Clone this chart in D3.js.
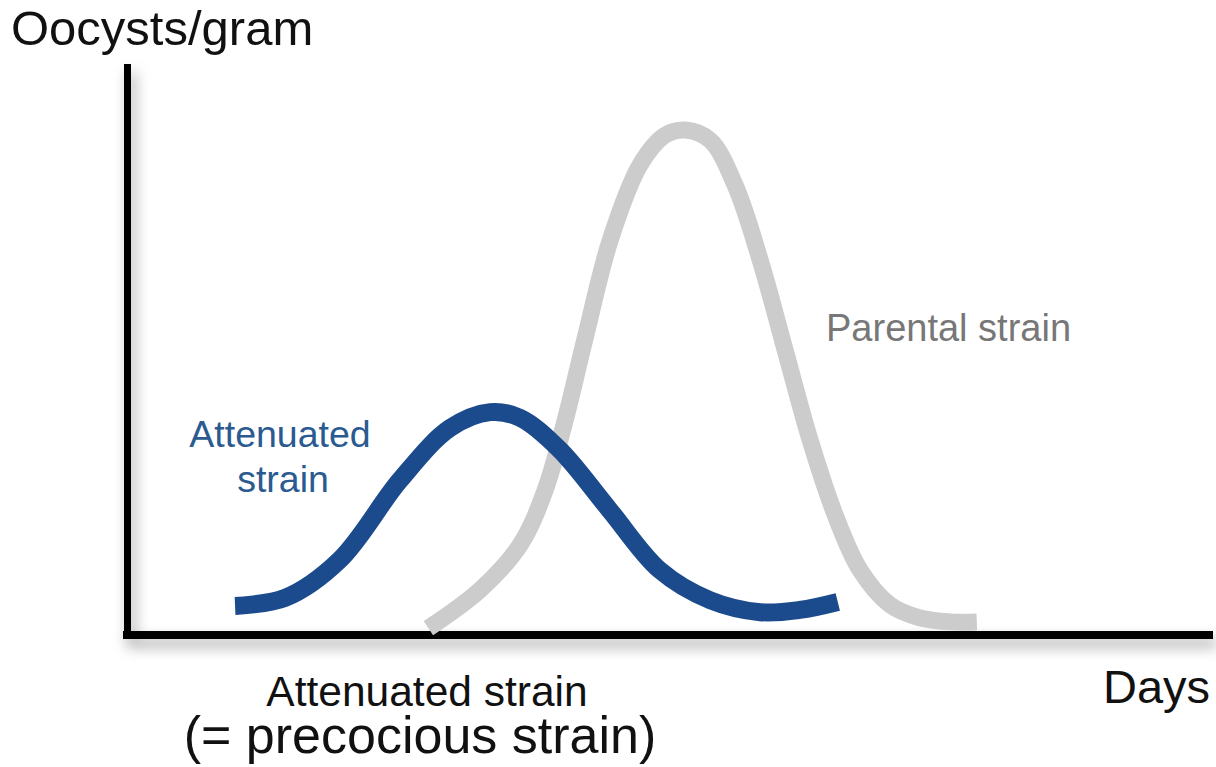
<!DOCTYPE html>
<html><head><meta charset="utf-8">
<script src="https://cdn.jsdelivr.net/npm/d3@7/dist/d3.min.js"></script>
<style>html,body{margin:0;padding:0;background:#fff;}svg{display:block;font-family:"Liberation Sans",Arial,sans-serif;}</style>
</head><body><svg id="c" width="1216" height="767"></svg>
<script>
// Attenuated (precocious) strain (days, oocysts/gram relative)
const attenuatedDays = [1.99, 2.91, 3.92, 5.03, 5.95, 6.69, 7.24, 7.97, 8.89, 9.81, 10.74, 11.66, 12.39, 13.09];
const attenuatedVals = [5.1, 6.5, 13.2, 27.2, 36.3, 39.1, 38.1, 32.5, 21.9, 11.4, 6.1, 4.0, 4.4, 5.8];
// Parental strain
const parentalDays = [5.55, 6.50, 7.24, 7.70, 8.07, 8.43, 8.90, 9.45, 9.91, 10.28, 10.74, 11.20, 11.66, 12.12, 12.58, 13.04, 13.50, 14.05, 14.60, 15.16, 15.65];
const parentalVals = [1.2, 7.9, 15.8, 25.4, 37.7, 51.8, 69.3, 82.5, 87.7, 88.6, 86.8, 78.9, 65.8, 50.0, 34.2, 21.1, 11.4, 5.3, 3.0, 2.3, 2.3];
const yLabel = "Oocysts/gram";
const xLabel = "Days";
const attenuatedLabel = ["Attenuated", "strain"];
const parentalLabel = "Parental strain";
const noteLines = ["Attenuated strain", "(= precocious strain)"];

const svg = d3.select("#c");
const x = d3.scaleLinear().domain([0, 20]).range([127, 1213]);
const y = d3.scaleLinear().domain([0, 100]).range([635, 65]);

const defs = svg.append("defs");
const f = defs.append("filter").attr("id","sh").attr("x","-20%").attr("y","-20%").attr("width","140%").attr("height","140%");
f.append("feDropShadow").attr("dx",4).attr("dy",8).attr("stdDeviation",7).attr("flood-color","#000").attr("flood-opacity",0.35);

const line = d3.line().x(d=>x(d[0])).y(d=>y(d[1])).curve(d3.curveCatmullRom.alpha(0.5));

// axes
const ax = svg.append("g").attr("filter","url(#sh)");
ax.append("line").attr("x1",x(0)+0.5).attr("x2",x(0)+0.5).attr("y1",y(100)-1).attr("y2",y(0)+3)
  .attr("stroke","#000").attr("stroke-width",7);
ax.append("line").attr("x1",x(0)-4).attr("x2",x(20)).attr("y1",y(0)).attr("y2",y(0))
  .attr("stroke","#000").attr("stroke-width",8);

// curves
svg.append("path").datum(d3.zip(parentalDays, parentalVals)).attr("d", line)
  .attr("fill","none").attr("stroke","#cccccc").attr("stroke-width",17).attr("stroke-linecap","butt");
svg.append("path").datum(d3.zip(attenuatedDays, attenuatedVals)).attr("d", line)
  .attr("fill","none").attr("stroke","#1b4b8c").attr("stroke-width",18).attr("stroke-linecap","butt");

// texts
svg.append("text").attr("x",11).attr("y",45).attr("font-size",49).attr("fill","#111").text(yLabel);
svg.append("text").attr("x",1103).attr("y",703).attr("font-size",47).attr("fill","#111").text(xLabel);
svg.append("text").attr("x",826).attr("y",341).attr("font-size",38).attr("fill","#777").text(parentalLabel);
const at = svg.append("text").attr("font-size",37.5).attr("fill","#2a5a90").attr("text-anchor","middle");
at.append("tspan").attr("x",280).attr("y",447).text(attenuatedLabel[0]);
at.append("tspan").attr("x",283).attr("y",492).text(attenuatedLabel[1]);
svg.append("text").attr("x",427).attr("y",706).attr("font-size",42.5).attr("fill","#111").attr("text-anchor","middle").text(noteLines[0]);
svg.append("text").attr("x",420).attr("y",753).attr("font-size",52).attr("fill","#111").attr("text-anchor","middle").text(noteLines[1]);
</script></body></html>
